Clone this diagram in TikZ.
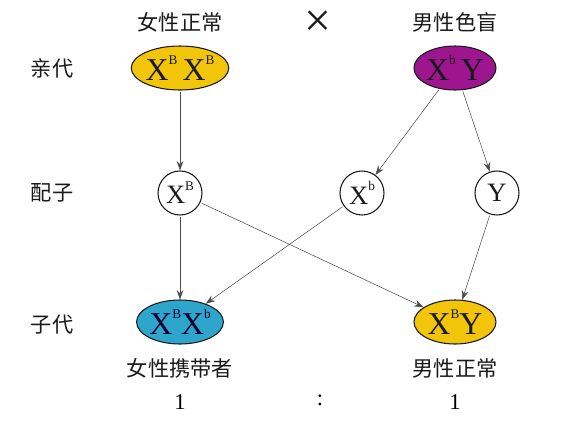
\documentclass[tikz,border=0pt]{standalone}
\usepackage{fontspec}
\setmainfont{Liberation Serif}
\newfontfamily\cjk{Noto Sans CJK SC}
\usetikzlibrary{arrows.meta, shapes.geometric}

\definecolor{gold}{HTML}{F2C40A}
\definecolor{plum}{HTML}{9E1590}
\definecolor{teal}{HTML}{2EA6CB}
\definecolor{ink}{HTML}{1A1A1A}

\newcommand{\allele}[1]{\raisebox{0.5em}{\fontsize{10}{10}\selectfont #1}}

\tikzset{
  cn/.style={font=\cjk\fontsize{16}{16}\selectfont, text=ink},
  parent/.style={ellipse, draw=ink, thick, minimum width=82*0.0265cm, minimum height=44*0.0265cm, inner sep=0pt,
    font=\fontsize{24}{24}\selectfont, text=ink},
  gamete/.style={circle, draw=ink, thick, minimum size=44*0.0265cm, inner sep=0pt,
    font=\fontsize{20}{20}\selectfont, text=ink},
  arr/.style={draw=black!70, -{Stealth[length=7pt, width=5pt]}, shorten <=1pt}
}

\begin{document}
\begin{tikzpicture}[x=0.0265cm, y=-0.0265cm]
\useasboundingbox (0,0) rectangle (574,420);
\fill[white] (0,0) rectangle (574,420);

% row labels
\path
(52,68) node[cn] (rowP) {亲代};
\path
(52,193) node[cn] (rowG) {配子};
\path
(52,325) node[cn] (rowF) {子代};

% parents
\path
(318,24) node[font=\fontsize{20}{20}\selectfont, text=ink] (cross) {\scalebox{1.8}{×}};
\path
(180,22) node[cn] (lmom) {女性正常};
\path
(455,22) node[cn] (ldad) {男性色盲};
\node[parent, fill=gold] (mom) at (180,68) {X\allele{B}\,X\allele{B}};
\node[parent, fill=plum] (dad) at (455,68) {X\allele{b}\,Y};

% gametes
\node[gamete] (gB) at (180,193) {X\allele{B}};
\node[gamete] (gb) at (362,193) {X\allele{b}};
\node[gamete] (gY) at (497,193) {Y};

% offspring
\node[parent, fill=teal, text=black!80!blue] (girl) at (180,322) {X\allele{B}X\allele{b}};
\node[parent, fill=gold] (boy) at (455,322) {X\allele{B}Y};
\path
(180,368) node[cn] (lgirl) {女性携带者};
\path
(455,368) node[cn] (lboy) {男性正常};
\path
(180,402) node[font=\fontsize{17}{17}\selectfont] (rgirl) {1};
\path
(320,400) node[font=\fontsize{17}{17}\selectfont] (rcolon) {:};
\path
(455,402) node[font=\fontsize{17}{17}\selectfont] (rboy) {1};

% crosses
\draw[arr] (mom) -- (gB);
\draw[arr] (dad) -- (gb);
\draw[arr] (dad) -- (gY);
\draw[arr] (gB) -- (girl);
\draw[arr] (gB) -- (boy);
\draw[arr] (gb) -- (girl);
\draw[arr] (gY) -- (boy);
\end{tikzpicture}
\end{document}
